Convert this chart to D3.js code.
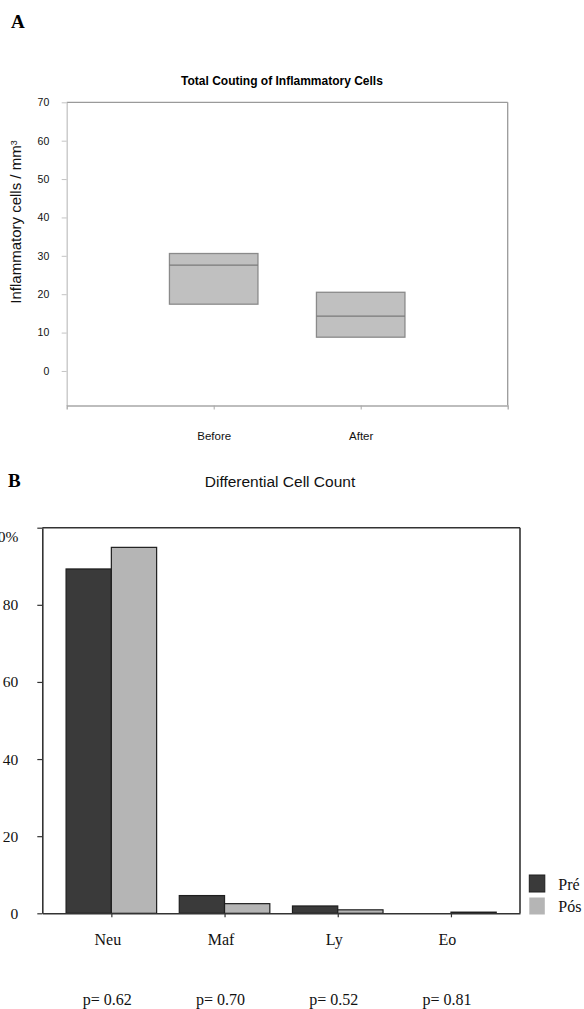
<!DOCTYPE html>
<html>
<head>
<meta charset="utf-8">
<script src="https://cdn.jsdelivr.net/npm/d3@7"></script>
<style>
  body { margin: 0; background: #fff; }
  svg { display: block; }
  .sans { font-family: Arial, "Liberation Sans", sans-serif; }
  .serif { font-family: "Times New Roman", "Liberation Serif", serif; }
</style>
</head>
<body>
<div class="chart"></div>
<script>
// Panel A - box per group
const boxGroups = ['Before', 'After'];
const boxQ1 = [17.4, 8.8];
const boxMedian = [27.6, 14.3];
const boxQ3 = [30.6, 20.5];
const ticksA = [0, 10, 20, 30, 40, 50, 60, 70];

// Panel B - differential count
const cellTypes = ['Neu', 'Maf', 'Ly', 'Eo'];
const preValues = [89.3, 4.6, 1.9, 0];
const posValues = [94.9, 2.5, 0.9, 0.3];
const pLabels = ['p= 0.62', 'p= 0.70', 'p= 0.52', 'p= 0.81'];
const seriesNames = ['Pré', 'Pós'];
const ticksB = [0, 20, 40, 60, 80, 100];

const svg = d3.select('.chart').append('svg')
    .attr('width', 584).attr('height', 1009);

// ---------- A ----------
svg.append('text').attr('class', 'serif')
    .attr('x', 11).attr('y', 28)
    .style('font-size', '19px').style('font-weight', 'bold')
    .text('A');

svg.append('text').attr('class', 'sans')
    .attr('x', 282).attr('y', 85).attr('text-anchor', 'middle')
    .style('font-size', '12px').style('font-weight', 'bold')
    .text('Total Couting of Inflammatory Cells');

const xA = d3.scalePoint().domain(boxGroups).range([66.7, 507.7]).padding(1);
const yA = d3.scaleLinear().domain([-9, 70]).range([405.5, 102.3]);

// frame top / right
svg.append('line').attr('x1', xA.range()[0]).attr('x2', xA.range()[1])
    .attr('y1', yA(70)).attr('y2', yA(70))
    .style('stroke', '#9a9a9a').style('stroke-width', 1.3);
svg.append('line').attr('x1', xA.range()[1]).attr('x2', xA.range()[1])
    .attr('y1', yA(70)).attr('y2', yA(-9))
    .style('stroke', '#9a9a9a').style('stroke-width', 1.3);

const yAxisA = svg.append('g').attr('class', 'sans')
    .attr('transform', `translate(${xA.range()[0]},0)`)
    .call(d3.axisLeft(yA).tickValues(ticksA).tickSize(5).tickPadding(12.4).tickSizeOuter(0));
yAxisA.select('.domain').style('stroke', '#c4c4c4').style('stroke-width', 1.3);
yAxisA.selectAll('.tick line').style('stroke', '#c4c4c4');
yAxisA.selectAll('text').style('font-size', '10.5px').style('fill', '#111').attr('font-family', null);

const xAxisA = svg.append('g').attr('class', 'sans')
    .attr('transform', `translate(0,${yA(-9)})`)
    .call(d3.axisBottom(xA).tickSize(4).tickSizeOuter(4).tickPadding(22));
xAxisA.select('.domain').style('stroke', '#a8a8a8').style('stroke-width', 1.3);
xAxisA.selectAll('.tick line').style('stroke', '#a8a8a8');
xAxisA.selectAll('text').style('font-size', '11.5px').style('fill', '#111').attr('font-family', null);

const boxW = 88.5;
const boxes = svg.append('g');
boxGroups.forEach((g, i) => {
    boxes.append('rect')
        .attr('x', xA(g) - boxW / 2).attr('width', boxW)
        .attr('y', yA(boxQ3[i])).attr('height', yA(boxQ1[i]) - yA(boxQ3[i]))
        .style('fill', '#c0c0c0').style('stroke', '#8a8a8a').style('stroke-width', 1.3);
    boxes.append('line')
        .attr('x1', xA(g) - boxW / 2).attr('x2', xA(g) + boxW / 2)
        .attr('y1', yA(boxMedian[i])).attr('y2', yA(boxMedian[i]))
        .style('stroke', '#7a7a7a').style('stroke-width', 1.3);
});

const yTitleA = svg.append('text').attr('class', 'sans')
    .attr('transform', 'translate(21,222) rotate(-90)')
    .attr('text-anchor', 'middle')
    .style('font-size', '15px').style('fill', '#111');
yTitleA.append('tspan').text('Inflammatory cells / mm');
yTitleA.append('tspan').attr('dy', '-0.5em').style('font-size', '9px').text('3');

// ---------- B ----------
svg.append('text').attr('class', 'serif')
    .attr('x', 8).attr('y', 486.7)
    .style('font-size', '19px').style('font-weight', 'bold')
    .text('B');

svg.append('text').attr('class', 'sans')
    .attr('x', 280).attr('y', 487).attr('text-anchor', 'middle')
    .style('font-size', '15.5px').style('fill', '#111')
    .text('Differential Cell Count');

const xB = d3.scalePoint().domain(cellTypes).range([42.3, 520]).padding(0.61);
const yB = d3.scaleLinear().domain([0, 100]).range([913.3, 527.7]);
const bw = xB.step() * 0.4;

// frame top / right
svg.append('line').attr('x1', xB.range()[0]).attr('x2', xB.range()[1])
    .attr('y1', yB(100)).attr('y2', yB(100))
    .style('stroke', '#333').style('stroke-width', 1.6);
svg.append('line').attr('x1', xB.range()[1]).attr('x2', xB.range()[1])
    .attr('y1', yB(100)).attr('y2', yB(0))
    .style('stroke', '#333').style('stroke-width', 1.6);

const bars = svg.append('g');
bars.selectAll('.pre').data(cellTypes).join('rect').attr('class', 'pre')
    .attr('x', d => xB(d) - bw).attr('width', bw)
    .attr('y', (d, i) => yB(preValues[i]))
    .attr('height', (d, i) => yB(0) - yB(preValues[i]))
    .style('fill', '#3a3a3a').style('stroke', '#1e1e1e').style('stroke-width', 1.2);
bars.selectAll('.pos').data(cellTypes).join('rect').attr('class', 'pos')
    .attr('x', d => xB(d)).attr('width', bw)
    .attr('y', (d, i) => yB(posValues[i]))
    .attr('height', (d, i) => yB(0) - yB(posValues[i]))
    .style('fill', '#b5b5b5').style('stroke', '#1e1e1e').style('stroke-width', 1.2);

const yAxisB = svg.append('g').attr('class', 'serif')
    .attr('transform', `translate(${xB.range()[0]},0)`)
    .call(d3.axisLeft(yB).tickValues(ticksB).tickSize(5).tickPadding(19).tickSizeOuter(0)
        .tickFormat(d => d === 100 ? '100%' : d));
yAxisB.select('.domain').style('stroke', '#333').style('stroke-width', 1.6);
yAxisB.selectAll('.tick line').style('stroke', '#333').style('stroke-width', 1.2);
yAxisB.selectAll('text').style('font-size', '15.5px').style('fill', '#111').attr('font-family', null);
yAxisB.selectAll('.tick').filter(d => d === 100).select('text').attr('dy', '0.9em');

const xAxisB = svg.append('g').attr('class', 'serif')
    .attr('transform', `translate(0,${yB(0)})`)
    .call(d3.axisBottom(xB).tickSize(4).tickSizeOuter(0).tickPadding(16));
xAxisB.select('.domain').style('stroke', '#333').style('stroke-width', 1.6);
xAxisB.selectAll('.tick line').style('stroke', '#333').style('stroke-width', 1.2);
xAxisB.selectAll('text').style('font-size', '16px').style('fill', '#111')
    .attr('font-family', null).attr('dx', -4);

svg.append('g').attr('class', 'serif').selectAll('text').data(cellTypes).join('text')
    .attr('x', d => xB(d) - 4).attr('y', 1005).attr('text-anchor', 'middle')
    .style('font-size', '16px').style('fill', '#111')
    .text((d, i) => pLabels[i]);

// legend
const legendColors = ['#3a3a3a', '#b5b5b5'];
const legend = svg.append('g').attr('transform', 'translate(529.3,875)');
seriesNames.forEach((s, i) => {
    legend.append('rect').attr('x', 0).attr('y', i * 22.5).attr('width', 15.5).attr('height', 17)
        .style('fill', legendColors[i]).style('stroke', i === 0 ? '#1e1e1e' : 'none');
    legend.append('text').attr('class', 'serif')
        .attr('x', 29).attr('y', i * 22.5 + 14.5)
        .style('font-size', '16px').style('fill', '#111')
        .text(s);
});
</script>
</body>
</html>
